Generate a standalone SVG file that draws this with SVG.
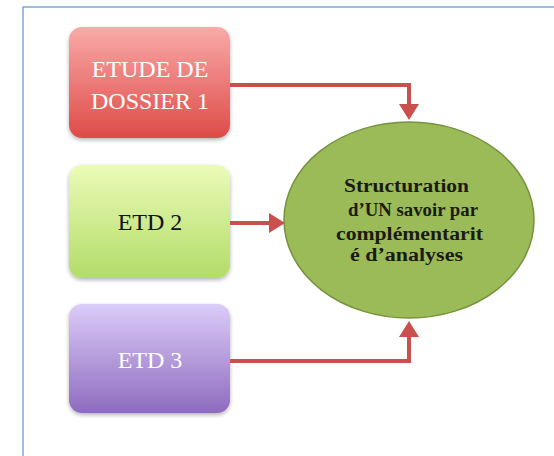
<svg xmlns="http://www.w3.org/2000/svg" width="554" height="456" viewBox="0 0 554 456">
  <defs>
    <linearGradient id="gRed" x1="0" y1="0" x2="0" y2="1">
      <stop offset="0" stop-color="#F9AAA8"/>
      <stop offset="1" stop-color="#DE4B48"/>
    </linearGradient>
    <linearGradient id="gGreen" x1="0" y1="0" x2="0" y2="1">
      <stop offset="0" stop-color="#EBFBB8"/>
      <stop offset="1" stop-color="#B2DC68"/>
    </linearGradient>
    <linearGradient id="gPurple" x1="0" y1="0" x2="0" y2="1">
      <stop offset="0" stop-color="#DCCCF9"/>
      <stop offset="1" stop-color="#8E6BBE"/>
    </linearGradient>
    <filter id="soft" x="-10%" y="-10%" width="120%" height="125%">
      <feGaussianBlur in="SourceAlpha" stdDeviation="2"/>
      <feOffset dy="2" result="b"/>
      <feComponentTransfer><feFuncA type="linear" slope="0.3"/></feComponentTransfer>
      <feMerge><feMergeNode/><feMergeNode in="SourceGraphic"/></feMerge>
    </filter>
    <marker id="head" viewBox="0 0 16 20" refX="1" refY="10" markerWidth="16" markerHeight="20" markerUnits="userSpaceOnUse" orient="auto">
      <path d="M0,0 L16,10 L0,20 z" fill="#C9504D"/>
    </marker>
  </defs>
  <style>
    .frame { stroke: #7FA7D9; stroke-width: 1.5; fill: none; }
    .box { filter: url(#soft); }
    .lbl { font-family: "Liberation Serif", "Times New Roman", serif; font-size: 24px; text-anchor: middle; }
    .hub { font-family: "Liberation Serif", "Times New Roman", serif; font-size: 18px; font-weight: bold; fill: #1A1A10; }
    .link { fill: none; stroke: #C9504D; stroke-width: 4; marker-end: url(#head); }
  </style>

  <rect width="554" height="456" fill="#FFFFFF"/>
  <!-- page border (top and left edges) -->
  <path class="frame" d="M23,456 V7 H554"/>

  <g id="node-dossier1">
    <rect class="box" x="69" y="27" width="161" height="111" rx="13" fill="url(#gRed)"/>
    <text class="lbl" x="150" y="77" fill="#FFFFFF">ETUDE DE</text>
    <text class="lbl" x="150" y="109" fill="#FFFFFF">DOSSIER 1</text>
  </g>

  <g id="node-etd2">
    <rect class="box" x="69" y="165" width="161" height="113" rx="13" fill="url(#gGreen)"/>
    <text class="lbl" x="150" y="230" fill="#111111">ETD 2</text>
  </g>

  <g id="node-etd3">
    <rect class="box" x="69" y="304" width="161" height="109" rx="13" fill="url(#gPurple)"/>
    <text class="lbl" x="150" y="368" fill="#FFFFFF">ETD 3</text>
  </g>

  <g id="node-structuration">
    <ellipse cx="409" cy="220" rx="125" ry="98" fill="#9BBB59" stroke="#76923C" stroke-width="1.5"/>
    <text class="hub" x="344" y="192" textLength="125" lengthAdjust="spacingAndGlyphs">Structuration</text>
    <text class="hub" x="348" y="216" textLength="130" lengthAdjust="spacingAndGlyphs">d’UN savoir par</text>
    <text class="hub" x="336" y="240" textLength="147" lengthAdjust="spacingAndGlyphs">complémentarit</text>
    <text class="hub" x="350" y="261" textLength="113" lengthAdjust="spacingAndGlyphs">é d’analyses</text>
  </g>

  <g id="connectors">
    <path class="link" d="M230,85 H409 V105"/>
    <path class="link" d="M230,223 H270"/>
    <path class="link" d="M230,361 H409 V336"/>
  </g>
</svg>
